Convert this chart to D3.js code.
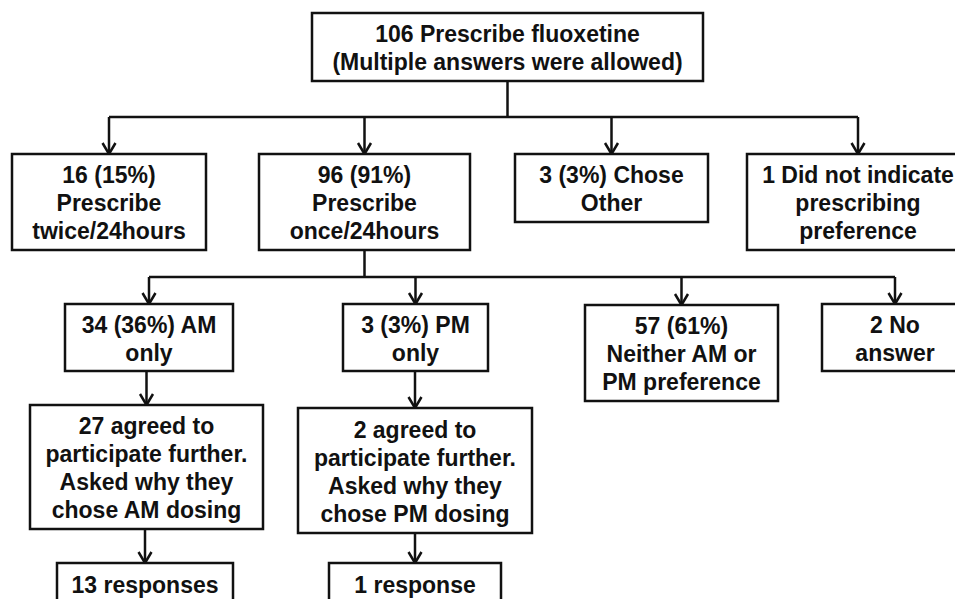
<!DOCTYPE html>
<html><head><meta charset="utf-8">
<script src="https://cdn.jsdelivr.net/npm/d3@7"></script>
<style>html,body{margin:0;padding:0;background:#fff;}svg{display:block;}</style>
</head><body>
<svg id="chart" width="955" height="599"></svg>
<script>
// ---- data (node texts) ----
const rootLabel = ["106 Prescribe fluoxetine", "(Multiple answers were allowed)"];
const level1Labels = [
  ["16 (15%)", "Prescribe", "twice/24hours"],
  ["96 (91%)", "Prescribe", "once/24hours"],
  ["3 (3%) Chose", "Other"],
  ["1 Did not indicate", "prescribing", "preference"]
];
const level2Labels = [
  ["34 (36%) AM", "only"],
  ["3 (3%) PM", "only"],
  ["57 (61%)", "Neither AM or", "PM preference"],
  ["2 No", "answer"]
];
const level3Labels = [
  ["27 agreed to", "participate further.", "Asked why they", "chose AM dosing"],
  ["2 agreed to", "participate further.", "Asked why they", "chose PM dosing"]
];
const level4Labels = [["13 responses"], ["1 response"]];

// ---- layout (positions kept separate from data) ----
const layout = {
  root: {x0: 312, x1: 703, y0: 13, y1: 81},
  l1: [
    {x0: 12, x1: 206, y0: 154, y1: 250},
    {x0: 259, x1: 470, y0: 154, y1: 250},
    {x0: 515, x1: 708, y0: 154, y1: 222},
    {x0: 747, x1: 969, y0: 154, y1: 250}
  ],
  bus1: 117,
  l2: [
    {x0: 65, x1: 233, y0: 304, y1: 371},
    {x0: 343, x1: 488, y0: 304, y1: 371},
    {x0: 585, x1: 778, y0: 305, y1: 401},
    {x0: 822, x1: 968, y0: 304, y1: 371}
  ],
  bus2: 277,
  l3: [
    {x0: 30, x1: 263, y0: 405, y1: 529},
    {x0: 298, x1: 532, y0: 408, y1: 533}
  ],
  l4: [
    {x0: 57, x1: 233, y0: 563, y1: 620},
    {x0: 329, x1: 501, y0: 563, y1: 620}
  ]
};

const svg = d3.select("#chart");
const ink = "#111";
const lw = 2.5;
const fontSize = 23, lineH = 28;

const gLines = svg.append("g");
const gBoxes = svg.append("g");

function cx(b) { return (b.x0 + b.x1) / 2; }

function drawBox(b, lines) {
  const g = gBoxes.append("g");
  g.append("rect")
    .attr("x", b.x0).attr("y", b.y0)
    .attr("width", b.x1 - b.x0).attr("height", b.y1 - b.y0)
    .attr("fill", "#fff").attr("stroke", ink).attr("stroke-width", lw);
  const yc = (b.y0 + Math.min(b.y1, 599 + 40)) / 2;
  const top = (b.y1 > 599) ? b.y0 + 22 : (b.y0 + b.y1) / 2 - (lines.length - 1) * lineH / 2 + 1;
  g.selectAll("text").data(lines).join("text")
    .attr("x", cx(b))
    .attr("y", (d, i) => top + i * lineH)
    .attr("text-anchor", "middle")
    .attr("dominant-baseline", "central")
    .attr("font-family", "'Liberation Sans', Arial, sans-serif")
    .attr("font-weight", "bold")
    .attr("font-size", fontSize)
    .attr("fill", ink)
    .text(d => d);
}

const line = d3.line();
function seg(pts) {
  gLines.append("path").attr("d", line(pts))
    .attr("fill", "none").attr("stroke", ink).attr("stroke-width", lw)
    .attr("stroke-linejoin", "miter");
}
function arrow(x, y1, y2) {
  seg([[x, y1], [x, y2]]);
  seg([[x - 6.5, y2 - 11], [x, y2], [x + 6.5, y2 - 11]]);
}

function fan(parent, children, busY) {
  const px = cx(parent);
  seg([[px, parent.y1], [px, busY]]);
  const xs = children.map(cx);
  seg([[d3.min(xs), busY], [d3.max(xs), busY]]);
  children.forEach(c => arrow(cx(c), busY, c.y0));
}

// root
drawBox(layout.root, rootLabel);
fan(layout.root, layout.l1, layout.bus1);
layout.l1.forEach((b, i) => drawBox(b, level1Labels[i]));
// level 2 from "once/24hours"
fan(layout.l1[1], layout.l2, layout.bus2);
layout.l2.forEach((b, i) => drawBox(b, level2Labels[i]));
// level 3
layout.l3.forEach((b, i) => {
  arrow(cx(b), layout.l2[i].y1, b.y0);
  drawBox(b, level3Labels[i]);
});
// level 4
layout.l4.forEach((b, i) => {
  arrow(cx(b), layout.l3[i].y1, b.y0);
  drawBox(b, level4Labels[i]);
});
</script>
</body></html>
